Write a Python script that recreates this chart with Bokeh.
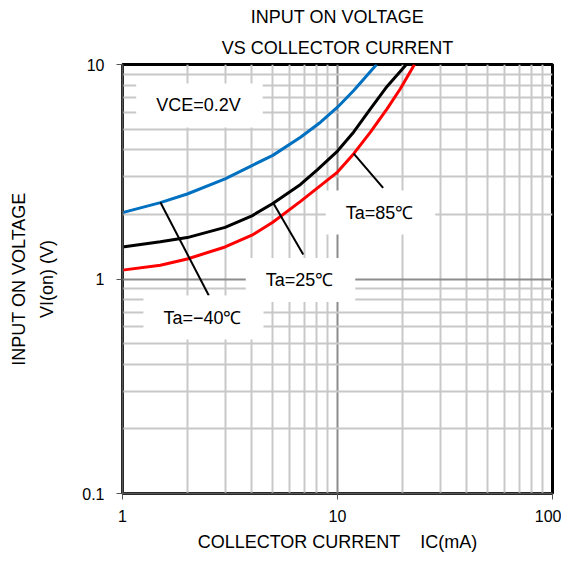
from bokeh.plotting import figure
from bokeh.models import Label, FixedTicker, Title, LogAxis
from bokeh.embed import file_html
from bokeh.resources import INLINE

# ---- data ----
ic_m40 = [1, 1.5, 2, 3, 4, 5, 6.73, 8.34, 10, 11.9, 13.7, 15.2]
v_m40 = [2.04, 2.27, 2.49, 2.93, 3.38, 3.77, 4.58, 5.38, 6.32, 7.57, 8.89, 10.0]

ic_25 = [1, 1.5, 2, 3, 4, 5, 6.73, 8.05, 10, 11.9, 14.2, 17.0, 20.9]
v_25 = [1.41, 1.49, 1.56, 1.74, 1.97, 2.25, 2.76, 3.23, 3.95, 4.85, 6.2, 7.9, 10.0]

ic_85 = [1, 1.5, 2, 3, 4, 5, 6.73, 10, 11.9, 14.2, 17.0, 19.6, 22.8]
v_85 = [1.10, 1.16, 1.24, 1.41, 1.60, 1.84, 2.30, 3.15, 3.84, 4.83, 6.21, 7.71, 10.0]

# leader lines: (x0, y0) on curve -> (x1, y1) at label
leader_x0 = [1.50, 5.0, 11.9]
leader_y0 = [2.28, 2.28, 3.84]
leader_x1 = [2.52, 6.93, 16.3]
leader_y1 = [0.838, 1.30, 2.66]

labels_text = ["VCE=0.2V", "Ta=\u221240\u2103", "Ta=25\u2103", "Ta=85\u2103"]
labels_x = [2.28, 2.38, 6.73, 15.85]
labels_y = [6.44, 0.661, 0.99, 2.04]

x_ticks = [1, 10, 100]
y_ticks = [0.1, 1, 10]

FONT = "Liberation Sans"

p = figure(width=561, height=556, x_axis_type="log", y_axis_type="log",
           x_range=(1, 100), y_range=(0.1, 10),
           output_backend="svg", toolbar_location=None,
           min_border_left=122, min_border_right=9,
           min_border_top=64, min_border_bottom=63)

p.title.visible = False
p.add_layout(Title(text="VS COLLECTOR CURRENT", align="center", text_font=FONT,
                   text_font_size="18px", text_font_style="normal",
                   text_color="#000000", standoff=14), "above")
p.add_layout(Title(text="INPUT ON VOLTAGE", align="center", text_font=FONT,
                   text_font_size="18px", text_font_style="normal",
                   text_color="#000000", standoff=3), "above")

p.outline_line_color = "#000000"
p.outline_line_width = 3

for ax in (p.xaxis, p.yaxis):
    ax.axis_line_color = "#555555"
    ax.axis_line_width = 2
    ax.major_tick_line_color = "#555555"
    ax.major_tick_out = 6
    ax.major_tick_in = 0
    ax.minor_tick_line_color = None
    ax.major_label_text_font = FONT
    ax.major_label_text_font_size = "16px"
    ax.major_label_text_color = "#000000"
    ax.axis_label_text_font = FONT
    ax.axis_label_text_font_size = "18px"
    ax.axis_label_text_font_style = "normal"
    ax.axis_label_text_color = "#000000"

p.xaxis.ticker = FixedTicker(ticks=x_ticks, minor_ticks=[a * b for b in (1, 10) for a in range(2, 10)])
p.yaxis.ticker = FixedTicker(ticks=y_ticks, minor_ticks=[a * b for b in (0.1, 1) for a in range(2, 10)])
p.xaxis.major_label_overrides = {1: "1", 10: "10", 100: "100"}
p.yaxis.major_label_overrides = {0.1: "0.1", 1: "1", 10: "10"}
p.xaxis.major_label_standoff = 10
p.yaxis.major_label_standoff = 12

p.xaxis.axis_label = "COLLECTOR CURRENT\u00a0\u00a0\u00a0\u00a0IC(mA)"
p.yaxis.axis_label = "VI(on) (V)"
p.xaxis.axis_label_standoff = 7
p.yaxis.axis_label_standoff = 22

# outer left axis carrying only the first line of the y title
yl = LogAxis(ticker=FixedTicker(ticks=[]), axis_line_color=None,
             major_tick_line_color=None, minor_tick_line_color=None,
             major_tick_out=0, major_label_standoff=0,
             axis_label="INPUT ON VOLTAGE", axis_label_standoff=6,
             axis_label_text_font=FONT, axis_label_text_font_size="18px",
             axis_label_text_font_style="normal", axis_label_text_color="#000000")
p.add_layout(yl, "left")

for g in (p.xgrid, p.ygrid):
    g.grid_line_color = "#8c8c8c"
    g.grid_line_width = 2
    g.minor_grid_line_color = "#c8c8c8"
    g.minor_grid_line_width = 2

p.line(ic_m40, v_m40, line_color="#0070C0", line_width=3)
p.line(ic_25, v_25, line_color="#000000", line_width=3)
p.line(ic_85, v_85, line_color="#FF0000", line_width=3)

p.segment(leader_x0, leader_y0, leader_x1, leader_y1, line_color="#000000", line_width=2)

for t, x, y in zip(labels_text, labels_x, labels_y):
    p.add_layout(Label(x=x, y=y, text=t, text_align="center", text_baseline="middle",
                       text_font=FONT, text_font_size="18px", text_color="#000000",
                       background_fill_color="white",
                       padding={"left": 20, "right": 22, "top": 12, "bottom": 12}))

open("out.html", "w").write(file_html(p, INLINE))
